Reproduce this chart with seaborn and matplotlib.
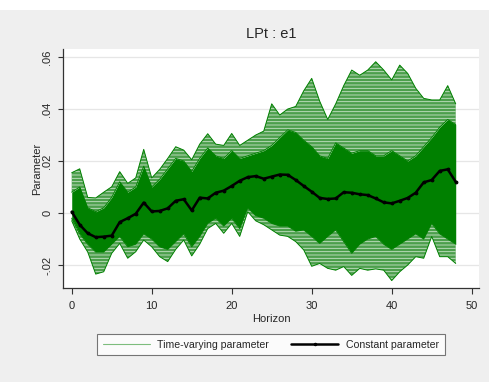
import numpy as np
import pandas as pd
import matplotlib.pyplot as plt
import seaborn as sns
from matplotlib.patches import Rectangle
from matplotlib.lines import Line2D

# horizon 0..48
horizon = list(range(49))

# constant parameter (black line)
constant_param = [0.0005, -0.0045, -0.0078, -0.0093, -0.0091, -0.0087, -0.0035, -0.002, -0.0003, 0.004,
                  0.0006, 0.0008, 0.0018, 0.0047, 0.0053, 0.001, 0.0059, 0.0056, 0.0078, 0.0086,
                  0.0104, 0.0124, 0.0138, 0.0142, 0.0132, 0.014, 0.0148, 0.0147, 0.0127, 0.0104,
                  0.0082, 0.0058, 0.0054, 0.0056, 0.008, 0.0078, 0.0072, 0.0069, 0.0056, 0.0041,
                  0.0037, 0.0047, 0.0058, 0.0078, 0.0118, 0.0127, 0.0162, 0.0168, 0.012]

# time-varying parameter paths (outer and inner paths of the fan)
tv_upper = [0.0155, 0.017, 0.006, 0.0058, 0.008, 0.0101, 0.0159, 0.0114, 0.0135, 0.0245,
            0.0135, 0.0168, 0.021, 0.0255, 0.0242, 0.0205, 0.0265, 0.0305, 0.0265, 0.026,
            0.0306, 0.026, 0.028, 0.03, 0.0315, 0.042, 0.0377, 0.04, 0.041, 0.047,
            0.0518, 0.043, 0.036, 0.042, 0.049, 0.055, 0.053, 0.055, 0.0582, 0.055,
            0.0512, 0.0569, 0.0537, 0.048, 0.0441, 0.0435, 0.0435, 0.049, 0.042]

tv_inner_upper = [0.008, 0.01, 0.002, 0.0005, 0.002, 0.006, 0.012, 0.008, 0.01, 0.018,
                  0.01, 0.013, 0.017, 0.021, 0.02, 0.016, 0.021, 0.025, 0.022, 0.021,
                  0.024, 0.021, 0.022, 0.023, 0.024, 0.026, 0.029, 0.032, 0.031, 0.028,
                  0.0255, 0.022, 0.021, 0.027, 0.025, 0.023, 0.024, 0.024, 0.022, 0.022,
                  0.024, 0.022, 0.02, 0.022, 0.0255, 0.029, 0.033, 0.036, 0.034]

tv_inner_lower = [-0.002, -0.008, -0.012, -0.015, -0.015, -0.012, -0.009, -0.013, -0.012, -0.008,
                  -0.01, -0.013, -0.014, -0.011, -0.008, -0.013, -0.009, -0.004, -0.002, -0.005,
                  -0.002, -0.006, 0.002, -0.001, -0.002, -0.004, -0.005, -0.005, -0.007, -0.0065,
                  -0.009, -0.0117, -0.009, -0.0065, -0.011, -0.0155, -0.012, -0.01, -0.009, -0.012,
                  -0.014, -0.012, -0.01, -0.008, -0.01, -0.004, -0.008, -0.01, -0.012]

tv_lower = [-0.003, -0.01, -0.015, -0.0235, -0.0226, -0.0155, -0.0117, -0.0174, -0.0149, -0.0104,
            -0.013, -0.0168, -0.0187, -0.014, -0.0104, -0.0165, -0.012, -0.006, -0.004, -0.0078,
            -0.004, -0.009, 0.0005, -0.003, -0.0045, -0.0065, -0.0085, -0.009, -0.011, -0.0142,
            -0.0205, -0.0194, -0.0213, -0.022, -0.0206, -0.024, -0.0213, -0.022, -0.0215, -0.022,
            -0.026, -0.0226, -0.02, -0.0168, -0.0174, -0.009, -0.0168, -0.0168, -0.0194]

y_ticks = [-0.02, 0, 0.02, 0.04, 0.06]
y_ticklabels = ['-.02', '0', '.02', '.04', '.06']
x_ticks = [0, 10, 20, 30, 40, 50]

GREEN = '#008000'

sns.set_style("white")
plt.rcParams['font.family'] = ['Liberation Sans', 'DejaVu Sans']
plt.rcParams['hatch.linewidth'] = 0.6

fig = plt.figure(figsize=(4.95, 3.82), dpi=100)
fig.patch.set_facecolor('white')
fig.patches.append(Rectangle((0, 0), 489 / 495, 372 / 382, transform=fig.transFigure,
                             facecolor='#efefef', edgecolor='none', zorder=-10))

ax = fig.add_axes([63 / 495, 94 / 382, 416 / 495, 239 / 382])
ax.set_facecolor('white')

# bands swept by the time-varying paths; light outer bands get a line texture
ax.fill_between(horizon, tv_inner_upper, tv_upper, facecolor='#4c9f4c', edgecolor='#c9e4c9',
                hatch='-----', lw=0, zorder=2)
ax.fill_between(horizon, tv_inner_lower, tv_inner_upper, color=GREEN, lw=0, zorder=2)
ax.fill_between(horizon, tv_lower, tv_inner_lower, facecolor='#4c9f4c', edgecolor='#c9e4c9',
                hatch='-----', lw=0, zorder=2)

paths = pd.DataFrame({'upper': tv_upper, 'inner_upper': tv_inner_upper,
                      'inner_lower': tv_inner_lower, 'lower': tv_lower}, index=horizon)
paths_long = paths.reset_index().melt(id_vars='index', var_name='path', value_name='value')
sns.lineplot(data=paths_long, x='index', y='value', units='path', estimator=None,
             color=GREEN, lw=0.7, ax=ax, zorder=3, legend=False)

sns.lineplot(x=horizon, y=constant_param, color='black', lw=1.8, marker='o', ms=2.0,
             mec='black', ax=ax, zorder=5)

ax.set_xlim(-1.09, 50.91)
ax.set_ylim(-0.02885, 0.0631)
ax.set_xticks(x_ticks)
ax.set_yticks(y_ticks)
ax.set_yticklabels(y_ticklabels, rotation=90, va='center')
ax.yaxis.grid(True, color='#e6e6e6', lw=0.9)
ax.xaxis.grid(False)
ax.set_axisbelow(True)

for side in ['top', 'right']:
    ax.spines[side].set_visible(False)
for side in ['left', 'bottom']:
    ax.spines[side].set_color('#333333')
    ax.spines[side].set_linewidth(0.9)
ax.tick_params(axis='both', which='both', bottom=True, left=True, direction='out',
               width=0.8, color='#333333', labelsize=8)
ax.tick_params(axis='x', length=4.3, pad=5)
ax.tick_params(axis='y', length=3.7, pad=4)

ax.set_xlabel('Horizon', fontsize=8, labelpad=2)
ax.set_ylabel('Parameter', fontsize=8, labelpad=0)
ax.set_title('LPt : e1', fontsize=10.5, pad=8)

handles = [Line2D([0], [0], color=GREEN, lw=0.8, alpha=0.5),
           Line2D([0], [0], color='black', lw=1.8, marker='o', ms=1.5)]
leg = fig.legend(handles, ['Time-varying parameter', 'Constant parameter'],
                 loc='center', bbox_to_anchor=(271 / 495, 1 - 344.5 / 382), ncol=2,
                 frameon=True, fancybox=False, edgecolor='#555555', fontsize=7.6,
                 handlelength=4.4, columnspacing=2.1, borderpad=0.55, handletextpad=0.75)
leg.get_frame().set_linewidth(0.8)

fig.savefig('out.png', dpi=100, facecolor=fig.get_facecolor())
